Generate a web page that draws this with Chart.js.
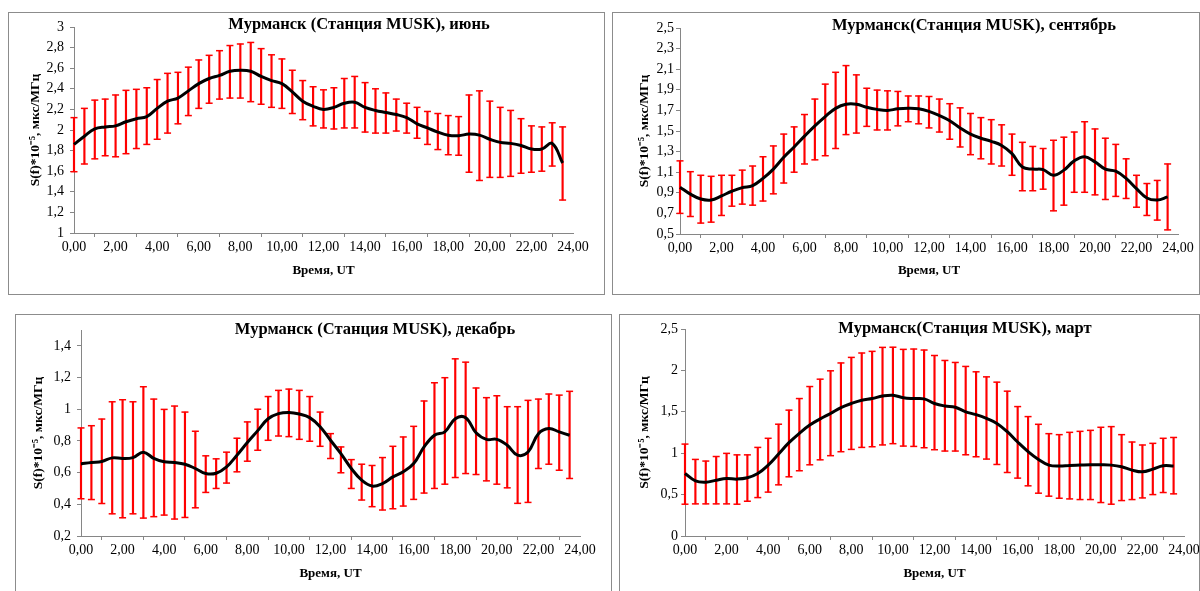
<!DOCTYPE html>
<html><head><meta charset="utf-8">
<script src="https://cdn.jsdelivr.net/npm/chart.js@4.4.0/dist/chart.umd.min.js"></script>
<style>
html,body{margin:0;padding:0;background:#fff;width:1200px;height:591px;overflow:hidden;}
.frame{position:absolute;border:1px solid #8c8c8c;box-sizing:border-box;background:#fff;overflow:hidden;}
canvas{display:block;}
</style></head><body>
<div class="frame" style="left:8px;top:12px;width:597px;height:283px"><canvas id="c1" width="595" height="281"></canvas></div>
<div class="frame" style="left:612px;top:12px;width:588px;height:283px"><canvas id="c2" width="586" height="281"></canvas></div>
<div class="frame" style="left:15px;top:314px;width:597px;height:290px"><canvas id="c3" width="595" height="288"></canvas></div>
<div class="frame" style="left:619px;top:314px;width:581px;height:290px"><canvas id="c4" width="579" height="288"></canvas></div>
<script>
const hours = [0,0.5,1,1.5,2,2.5,3,3.5,4,4.5,5,5.5,6,6.5,7,7.5,8,8.5,9,9.5,10,10.5,11,11.5,12,12.5,13,13.5,14,14.5,15,15.5,16,16.5,17,17.5,18,18.5,19,19.5,20,20.5,21,21.5,22,22.5,23,23.5];
const xTicks = [0,2,4,6,8,10,12,14,16,18,20,22,24];

const junMean = [1.86,1.94,2.01,2.03,2.04,2.08,2.11,2.13,2.21,2.28,2.31,2.38,2.45,2.50,2.53,2.57,2.58,2.57,2.52,2.48,2.45,2.37,2.28,2.23,2.20,2.22,2.26,2.27,2.22,2.19,2.17,2.15,2.12,2.06,2.02,1.98,1.95,1.945,1.96,1.95,1.91,1.88,1.87,1.85,1.815,1.815,1.87,1.68];
const junUp = [2.12,2.21,2.29,2.30,2.34,2.385,2.395,2.41,2.49,2.55,2.56,2.61,2.68,2.725,2.77,2.82,2.835,2.85,2.79,2.73,2.69,2.58,2.48,2.42,2.39,2.41,2.50,2.52,2.46,2.40,2.36,2.30,2.26,2.22,2.18,2.16,2.14,2.13,2.34,2.38,2.28,2.22,2.19,2.11,2.04,2.03,2.07,2.03];
const junLo = [1.595,1.67,1.72,1.75,1.74,1.77,1.82,1.86,1.91,1.97,2.06,2.14,2.21,2.26,2.30,2.31,2.31,2.275,2.25,2.22,2.21,2.16,2.10,2.04,2.02,2.01,2.02,2.02,1.98,1.97,1.97,1.99,1.97,1.92,1.86,1.81,1.76,1.755,1.59,1.51,1.54,1.54,1.55,1.58,1.59,1.60,1.65,1.32];
const junTicks = [1,1.2,1.4,1.6,1.8,2,2.2,2.4,2.6,2.8,3];

const sepMean = [0.955,0.887,0.84,0.83,0.87,0.915,0.95,0.97,1.04,1.13,1.245,1.345,1.45,1.55,1.64,1.72,1.76,1.76,1.73,1.71,1.70,1.715,1.72,1.715,1.69,1.65,1.60,1.53,1.47,1.43,1.40,1.36,1.28,1.15,1.13,1.125,1.07,1.12,1.21,1.25,1.20,1.13,1.11,1.04,0.94,0.85,0.83,0.86];
const sepUp = [1.21,1.105,1.07,1.06,1.07,1.07,1.12,1.16,1.25,1.355,1.47,1.54,1.66,1.81,1.955,2.07,2.135,2.045,1.915,1.897,1.89,1.884,1.84,1.84,1.835,1.81,1.765,1.725,1.67,1.63,1.61,1.56,1.47,1.39,1.35,1.33,1.41,1.44,1.49,1.59,1.52,1.43,1.37,1.23,1.07,0.99,1.02,1.18];
const sepLo = [0.70,0.67,0.606,0.615,0.68,0.77,0.79,0.78,0.82,0.89,0.995,1.10,1.18,1.22,1.26,1.33,1.465,1.48,1.545,1.51,1.51,1.55,1.59,1.57,1.53,1.49,1.42,1.345,1.27,1.23,1.18,1.16,1.07,0.92,0.92,0.935,0.725,0.78,0.905,0.905,0.88,0.835,0.865,0.845,0.76,0.68,0.635,0.54];
const sepTicks = [0.5,0.7,0.9,1.1,1.3,1.5,1.7,1.9,2.1,2.3,2.5];

const decMean = [0.655,0.664,0.67,0.693,0.689,0.695,0.729,0.69,0.668,0.664,0.653,0.626,0.594,0.596,0.636,0.71,0.79,0.865,0.94,0.972,0.98,0.97,0.947,0.89,0.804,0.72,0.626,0.552,0.515,0.531,0.573,0.605,0.657,0.762,0.836,0.857,0.94,0.947,0.852,0.81,0.81,0.773,0.71,0.73,0.846,0.878,0.857,0.836];
const decUp = [0.882,0.896,0.938,1.047,1.06,1.047,1.142,1.064,0.999,1.02,0.982,0.861,0.706,0.687,0.729,0.817,0.92,1.00,1.08,1.119,1.127,1.119,1.08,0.982,0.846,0.762,0.682,0.653,0.645,0.695,0.766,0.825,0.892,1.052,1.167,1.199,1.318,1.297,1.134,1.073,1.085,1.016,1.016,1.056,1.064,1.096,1.089,1.113];
const decLo = [0.435,0.43,0.405,0.34,0.315,0.34,0.313,0.322,0.332,0.307,0.317,0.378,0.475,0.50,0.534,0.605,0.672,0.741,0.804,0.831,0.827,0.81,0.798,0.766,0.689,0.599,0.50,0.427,0.385,0.364,0.372,0.389,0.431,0.471,0.50,0.527,0.569,0.594,0.588,0.548,0.527,0.504,0.406,0.412,0.626,0.653,0.615,0.563];
const decTicks = [0.2,0.4,0.6,0.8,1,1.2,1.4];

const marMean = [0.755,0.666,0.65,0.674,0.695,0.687,0.703,0.755,0.856,0.99,1.127,1.24,1.34,1.414,1.48,1.55,1.60,1.64,1.66,1.69,1.70,1.67,1.66,1.656,1.60,1.57,1.555,1.50,1.466,1.42,1.36,1.26,1.135,1.02,0.925,0.856,0.844,0.852,0.856,0.86,0.86,0.856,0.836,0.796,0.775,0.808,0.848,0.844];
const marUp = [1.11,0.925,0.905,0.96,0.998,0.98,0.98,1.07,1.18,1.35,1.52,1.66,1.805,1.894,1.995,2.09,2.157,2.21,2.23,2.278,2.28,2.254,2.258,2.246,2.18,2.12,2.096,2.048,1.983,1.922,1.858,1.749,1.563,1.442,1.349,1.236,1.224,1.252,1.264,1.276,1.313,1.321,1.224,1.135,1.099,1.119,1.18,1.19];
const marLo = [0.384,0.388,0.388,0.388,0.388,0.384,0.42,0.464,0.53,0.618,0.715,0.788,0.86,0.92,0.97,1.018,1.046,1.07,1.078,1.10,1.115,1.086,1.082,1.066,1.042,1.026,1.026,0.981,0.957,0.929,0.864,0.767,0.699,0.606,0.517,0.481,0.456,0.448,0.44,0.44,0.404,0.384,0.428,0.44,0.46,0.50,0.525,0.509];
const marTicks = [0,0.5,1,1.5,2,2.5];

const yTitle = 'S(f)*10⁻⁵, мкс/МГц';
const xTitle = 'Время, UT';
const serif = '"Liberation Serif", "Times New Roman", serif';

const titlePlugin = {
  id: 'ptitle',
  afterDraw(chart, args, opts) {
    const c = chart.ctx;
    c.save();
    c.font = 'bold 16.5px ' + serif;
    c.fillStyle = '#000';
    c.textAlign = 'center';
    c.textBaseline = 'middle';
    c.fillText(opts.text, opts.x, opts.y);
    c.restore();
  }
};

function fmtY(v) { return (Math.round(v * 100) / 100).toString().replace('.', ','); }
function fmtX(v) { return Number(v).toFixed(2).replace('.', ','); }

function makeChart(id, o) {
  const pts = arr => hours.map((x, i) => ({x: x, y: arr[i]}));
  return new Chart(document.getElementById(id), {
    type: 'line',
    data: {
      datasets: [
        {type: 'line', data: pts(o.mean), borderColor: '#000', borderWidth: 3, tension: 0.4,
         pointRadius: 0, order: 0, clip: false},
        {type: 'line', data: pts(o.up), showLine: false, pointStyle: 'line', pointRadius: 3.5,
         borderColor: '#ff0000', pointBorderColor: '#ff0000', pointBorderWidth: 1.5, order: 1, clip: false},
        {type: 'line', data: pts(o.lo), showLine: false, pointStyle: 'line', pointRadius: 3.5,
         borderColor: '#ff0000', pointBorderColor: '#ff0000', pointBorderWidth: 1.5, order: 1, clip: false},
        {type: 'bar', data: hours.map((x, i) => ({x: x, y: [o.lo[i], o.up[i]]})),
         backgroundColor: '#ff0000', borderWidth: 0, barThickness: 1.5, grouped: false, order: 2, clip: false}
      ]
    },
    plugins: [titlePlugin],
    options: {
      responsive: false, animation: false, devicePixelRatio: 1,
      layout: {padding: {left: 0, top: o.padTop, right: o.padRight, bottom: 0}},
      plugins: {
        legend: {display: false}, tooltip: {enabled: false},
        ptitle: {text: o.title, x: o.tx, y: o.ty}
      },
      scales: {
        x: {
          type: 'linear', min: 0, max: 24, offset: false,
          afterBuildTicks: s => { s.ticks = xTicks.map(v => ({value: v})); },
          afterFit: s => { s.height = o.xH; s.paddingLeft = 0; s.paddingRight = 0; },
          grid: {display: true, drawOnChartArea: false, drawTicks: true, tickLength: 4, color: '#868686'},
          border: {display: true, color: '#868686', width: 1},
          ticks: {color: '#000', font: {family: serif, size: 14}, padding: 2, maxRotation: 0, autoSkip: false,
                  callback: v => fmtX(v)},
          title: {display: true, text: xTitle, color: '#000',
                  font: {family: serif, size: 13, weight: 'bold'}, padding: {top: 0, bottom: o.xTitlePad}}
        },
        y: {
          type: 'linear', min: o.ymin, max: o.ymax,
          afterBuildTicks: s => { s.ticks = o.ticks.map(v => ({value: v})); },
          afterFit: s => { s.width = o.yW; s.paddingTop = 0; s.paddingBottom = 0; },
          grid: {display: true, drawOnChartArea: false, drawTicks: true, tickLength: 4, color: '#868686'},
          border: {display: true, color: '#868686', width: 1},
          ticks: {color: '#000', font: {family: serif, size: 14}, padding: o.yPad, autoSkip: false,
                  callback: v => fmtY(v)},
          title: {display: true, text: yTitle, color: '#000',
                  font: {family: serif, size: 13.5, weight: 'bold'}, padding: {top: o.yTitlePad, bottom: 0}}
        }
      }
    }
  });
}

makeChart('c1', {mean: junMean, up: junUp, lo: junLo, ticks: junTicks, ymin: 1, ymax: 3,
  title: 'Мурманск (Станция MUSK), июнь', tx: 350, ty: 12,
  padTop: 14, padRight: 31, yW: 65, xH: 61, xTitlePad: 16, yTitlePad: 18, yPad: 6});
makeChart('c2', {mean: sepMean, up: sepUp, lo: sepLo, ticks: sepTicks, ymin: 0.5, ymax: 2.5,
  title: 'Мурманск(Станция MUSK), сентябрь', tx: 361, ty: 13,
  padTop: 15, padRight: 21, yW: 67, xH: 60, xTitlePad: 16, yTitlePad: 23, yPad: 2});
makeChart('c3', {mean: decMean, up: decUp, lo: decLo, ticks: decTicks, ymin: 0.2, ymax: 1.5,
  title: 'Мурманск (Станция MUSK), декабрь', tx: 359, ty: 15,
  padTop: 15, padRight: 31, yW: 65, xH: 67, xTitlePad: 22, yTitlePad: 14, yPad: 6});
makeChart('c4', {mean: marMean, up: marUp, lo: marLo, ticks: marTicks, ymin: 0, ymax: 2.5,
  title: 'Мурманск(Станция MUSK), март', tx: 345, ty: 14,
  padTop: 14, padRight: 15, yW: 65, xH: 67, xTitlePad: 22, yTitlePad: 16, yPad: 3});
</script>
</body></html>
